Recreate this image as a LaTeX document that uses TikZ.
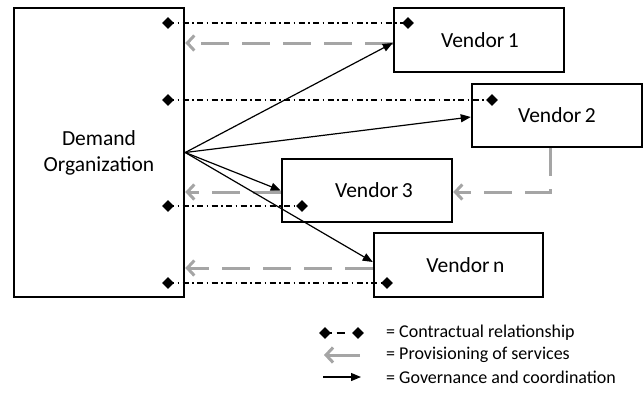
\documentclass[tikz,border=0pt]{standalone}
\usepackage{fontspec}
\setmainfont{Carlito}
\usetikzlibrary{arrows.meta,shapes.geometric,calc}
\begin{document}
\begin{tikzpicture}[x=1pt,y=-1pt,
  box/.style={draw=black,line width=2.5pt,fill=white,minimum width=170pt,minimum height=64pt,inner sep=0pt,font=\fontsize{21.5}{26}\selectfont,align=center},
  dia/.style={diamond,fill=black,inner sep=0pt,minimum size=12pt},
  contract/.style={line width=1.1pt,dash pattern=on 6pt off 3.5pt on 1.5pt off 3.5pt},
  prov/.style={draw={rgb,255:red,165;green,165;blue,165},line width=3pt,dash pattern=on 28pt off 13pt,-{Straight Barb[length=7pt,width=15pt,line width=3pt]}},
  gov/.style={line width=1.2pt,-{Triangle[length=10pt,width=8pt]}},
  legtext/.style={anchor=west,inner sep=0pt,font=\fontsize{18}{21}\selectfont}]
\useasboundingbox (0,0) rectangle (644,394);
% boxes
\node[box,minimum width=170pt,minimum height=289pt] (dem) at (99,152.5) {Demand\\Organization};
\node[box] (v1) at (479,40) {\hspace*{2pt}Vendor\,1};
\node[box,minimum height=63pt] (v2) at (557,115.5) {Vendor\,2};
\node[box,minimum height=63pt] (v3) at (367,190.5) {\hspace*{14pt}Vendor\,3};
\node[box,minimum width=169pt] (vn) at (458.5,265) {\hspace*{14pt}Vendor\,n};
% contractual endpoints
\coordinate (c1a) at (168,23);  \coordinate (c1b) at (408,23);
\coordinate (c2a) at (168,100); \coordinate (c2b) at (492,100);
\coordinate (c3a) at (168,206); \coordinate (c3b) at (302,206);
\coordinate (c4a) at (168,283); \coordinate (c4b) at (387,283);
\foreach \i in {1,2,3,4}{
  \draw[contract] (c\i a) -- (c\i b);
  \node[dia] at (c\i a) {};
  \node[dia] at (c\i b) {};
}
% provisioning
\draw[prov] ([yshift=-3pt]v1.west) -- ([yshift=-3pt]v1.west -| dem.east);
\draw[prov] ([yshift=-1.5pt]v3.west) -- ([yshift=-1.5pt]v3.west -| dem.east);
\draw[prov] ([yshift=-3pt]vn.west) -- ([yshift=-3pt]vn.west -| dem.east);
\draw[prov] ([xshift=-7pt]v2.south) |- ([yshift=-1.5pt]v3.east);
% governance
\draw[gov] (dem.east) -- ([yshift=-3pt]v1.west);
\draw[gov] (dem.east) -- ([yshift=-1.5pt]v2.west);
\draw[gov] (dem.east) -- (v3.west);
\draw[gov] (dem.east) -- ([yshift=3pt]vn.west);
% legend
\coordinate (l1a) at (325,333); \coordinate (l1b) at (358,333);
\draw[line width=1.1pt,dash pattern=on 1.5pt off 3.5pt on 1.5pt off 5pt on 8pt off 10pt] (l1a) -- (l1b);
\node[dia] at (l1a) {};
\node[dia] at (l1b) {};
\node[legtext] (t1) at (386,333) {= Contractual relationship};
\coordinate (l2a) at (360,355); \coordinate (l2b) at (324,355);
\draw[draw={rgb,255:red,165;green,165;blue,165},line width=3pt,-{Straight Barb[length=7pt,width=15pt,line width=3pt]}] (l2a) -- (l2b);
\node[legtext] (t2) at (386,355) {= Provisioning of services};
\coordinate (l3a) at (323,377); \coordinate (l3b) at (361,377);
\draw[gov] (l3a) -- (l3b);
\node[legtext] (t3) at (386,377) {= Governance and coordination};
\end{tikzpicture}
\end{document}
